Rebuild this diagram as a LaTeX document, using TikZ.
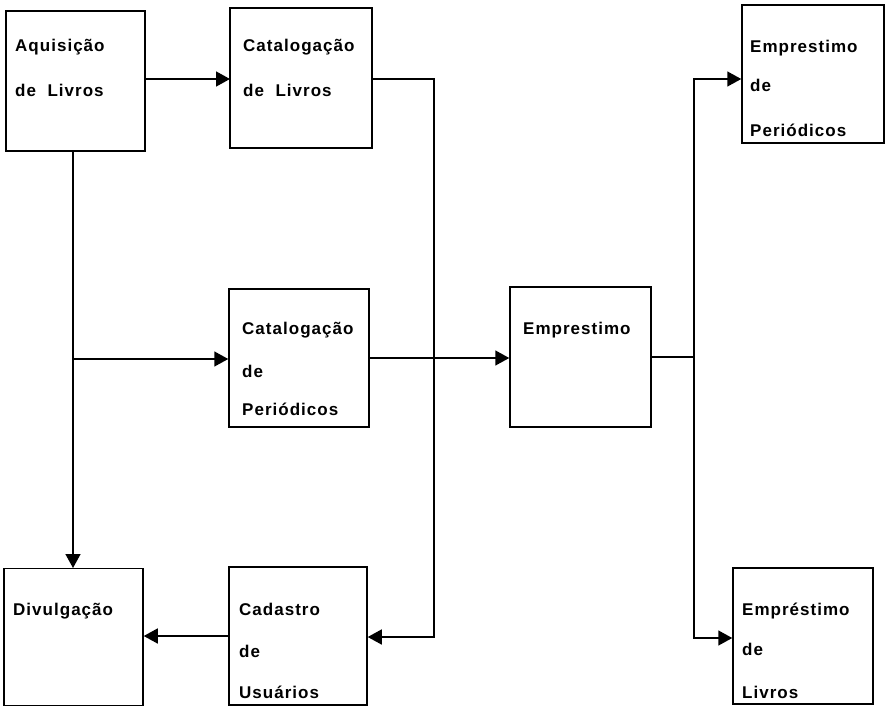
\documentclass[tikz,border=0pt]{standalone}
\usepackage{fontspec}
\setmainfont{Liberation Sans}
\newfontfamily\lettering[LetterSpace=6]{Liberation Sans}
\usetikzlibrary{arrows.meta}
\begin{document}
\begin{tikzpicture}[x=1pt,y=-1pt,
  box/.style={draw,line width=1.5pt,inner sep=0pt},
  lbl/.style={anchor=base west,inner sep=0pt,font=\lettering\fontsize{17}{20}\selectfont\bfseries},
  conn/.style={line width=1.5pt},
  arr/.style={line width=1.5pt,-{Triangle[length=14pt,width=15pt]}}]
\useasboundingbox (0,0) rectangle (889,709);
% boxes
\node[box,minimum width=139pt,minimum height=140pt] (aq) at (75.5,81) {};
\node[box,minimum width=142pt,minimum height=140pt] (cl) at (301,78) {};
\node[box,minimum width=142pt,minimum height=138pt] (ep) at (813,74) {};
\node[box,minimum width=140pt,minimum height=138pt] (cp) at (299,358) {};
\node[box,minimum width=141pt,minimum height=140pt] (em) at (580.5,357) {};
\node[box,minimum width=139pt,minimum height=137pt] (dv) at (73.5,637) {};
\node[box,minimum width=138pt,minimum height=138pt] (cu) at (298,636) {};
\node[box,minimum width=140pt,minimum height=136pt] (el) at (803,636) {};
% texts
\node[lbl] (t1) at (15,52) {Aquisição};
\node[lbl] (t2) at (15,96) {de~~Livros};
\node[lbl] (t3) at (243,52) {Catalogação};
\node[lbl] (t4) at (243,96) {de~~Livros};
\node[lbl] (t5) at (750,53) {Emprestimo};
\node[lbl] (t6) at (750,92) {de};
\node[lbl] (t7) at (750,136) {Periódicos};
\node[lbl] (t8) at (242,334) {Catalogação};
\node[lbl] (t9) at (242,377) {de};
\node[lbl] (t10) at (242,415) {Periódicos};
\node[lbl] (t11) at (523,334) {Emprestimo};
\node[lbl] (t12) at (13,615) {Divulgação};
\node[lbl] (t13) at (239,615) {Cadastro};
\node[lbl] (t14) at (239,657) {de};
\node[lbl] (t15) at (239,698) {Usuários};
\node[lbl] (t16) at (742,615) {Empréstimo};
\node[lbl] (t17) at (742,655) {de};
\node[lbl] (t18) at (742,698) {Livros};
% junction coordinates
\coordinate (a1) at (145,79);
\coordinate (a2) at (230,79);
\coordinate (d1) at (73,151);
\coordinate (d2) at (73,568);
\coordinate (b1) at (73,359);
\coordinate (c1) at (372,79);
\coordinate (c2) at (434,79);
\coordinate (c3) at (434,637);
\coordinate (e1) at (694,357);
\coordinate (e2) at (694,79);
\coordinate (e3) at (694,638);
% connectors
\draw[arr] (a1) -- (a2);
\draw[arr] (d1) -- (d2);
\draw[arr] (b1) -- (b1 -| cp.west);
\draw[arr] (c1) -- (c2) -- (c3) -- (c3 -| cu.east);
\draw[arr] (cp.east) -- (cp.east -| em.west);
\draw[arr] (cu.west) -- (cu.west -| dv.east);
\draw[conn] (em.east) -- (e1);
\draw[arr] (e1) -- (e2) -- (e2 -| ep.west);
\draw[arr] (e1) -- (e3) -- (e3 -| el.west);
\end{tikzpicture}
\end{document}
